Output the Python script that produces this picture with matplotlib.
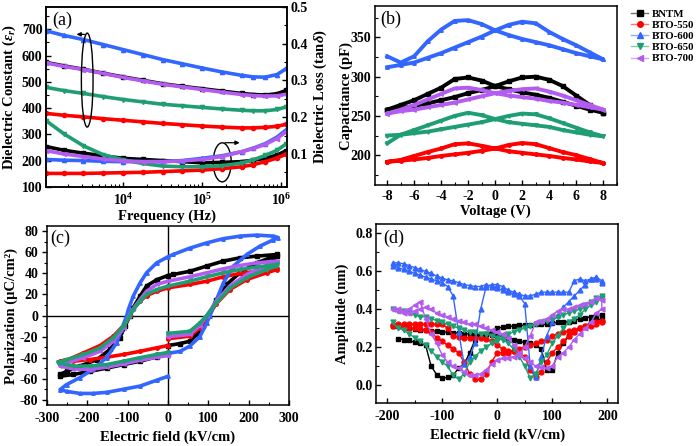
import numpy as np
import matplotlib
matplotlib.use('Agg')
import matplotlib.pyplot as plt
from matplotlib.patches import Ellipse
from matplotlib.lines import Line2D
from matplotlib.ticker import MultipleLocator, FormatStrFormatter

plt.rcParams.update({
    'font.family': 'Liberation Serif',
    'font.weight': 'bold',
    'axes.labelweight': 'bold',
    'font.size': 10,
    'xtick.labelsize': 10,
    'ytick.labelsize': 10,
    'axes.unicode_minus': False,
    'mathtext.fontset': 'custom',
    'mathtext.rm': 'Liberation Serif:bold',
    'mathtext.it': 'Liberation Serif:italic:bold',
    'mathtext.bf': 'Liberation Serif:bold',
    'axes.linewidth': 1.1,
    'xtick.direction': 'in', 'ytick.direction': 'in',
    'xtick.major.size': 3.5, 'ytick.major.size': 3.5,
    'xtick.minor.size': 2, 'ytick.minor.size': 2,
    'xtick.major.width': 1, 'ytick.major.width': 1,
    'xtick.minor.width': 0.8, 'ytick.minor.width': 0.8,
    'xtick.major.pad': 3.5, 'ytick.major.pad': 2.5,
})

names = ['BNTM', 'BTO-550', 'BTO-600', 'BTO-650', 'BTO-700']
colors = ['#000000', '#ff0000', '#3366ff', '#1f9e74', '#b35cf0']
markers = ['s', 'o', '^', 'v', '<']

# ---------------- (a) dielectric spectra ----------------
freq = [1.07e3, 1.78e3, 3.16e3, 5.62e3, 1e4, 1.78e4, 3.16e4, 5.62e4,
        1e5, 1.78e5, 3.16e5, 4.47e5, 6.31e5, 8.91e5, 1.17e6]
eps_bntm = [574, 561, 548, 533, 519, 506, 493, 483, 474, 465, 456, 452, 450, 455, 468]
eps_550 = [380, 373, 367, 360, 354, 348, 342, 337, 332, 328, 325, 325, 327, 331, 339]
eps_600 = [694, 677, 661, 642, 623, 604, 585, 569, 553, 538, 525, 519, 518, 528, 551]
eps_650 = [479, 467, 456, 444, 433, 424, 415, 409, 403, 397, 392, 390, 390, 395, 405]
eps_700 = [572, 559, 547, 532, 517, 504, 491, 481, 471, 461, 452, 448, 446, 447, 453]

loss_bntm = [0.120, 0.110, 0.102, 0.095, 0.088, 0.085, 0.082, 0.079, 0.076, 0.077, 0.079, 0.083, 0.088, 0.097, 0.109]
loss_550 = [0.047, 0.047, 0.047, 0.048, 0.049, 0.050, 0.052, 0.054, 0.056, 0.060, 0.065, 0.071, 0.079, 0.089, 0.100]
loss_600 = [0.085, 0.083, 0.082, 0.080, 0.079, 0.079, 0.079, 0.082, 0.088, 0.095, 0.106, 0.116, 0.128, 0.146, 0.166]
loss_650 = [0.190, 0.155, 0.122, 0.098, 0.084, 0.074, 0.067, 0.065, 0.065, 0.068, 0.075, 0.084, 0.096, 0.110, 0.128]
loss_700 = [0.109, 0.100, 0.093, 0.086, 0.081, 0.079, 0.079, 0.081, 0.085, 0.093, 0.106, 0.115, 0.126, 0.142, 0.161]

# ---------------- (b) C-V butterfly ----------------
volt = list(range(-8, 9))
cap_bntm_a = [258, 264, 270, 278, 286, 297, 299, 295, 288, 284, 280, 277, 273, 268, 263, 258, 254]
cap_bntm_b = [258, 260, 262.5, 266, 270, 274, 279, 283, 288, 294, 299, 300, 296, 288, 276, 264, 254]
cap_550_a = [191.5, 194, 199, 204, 208.5, 214, 215, 212, 208.5, 205, 203, 201, 199, 196.5, 194.5, 192, 190]
cap_550_b = [191.5, 193, 194.5, 196.5, 199, 201, 203, 205.5, 208.5, 213, 215.5, 214, 209, 204, 200, 195, 190]
cap_600_a = [326, 318, 326, 345, 360, 371, 372, 367, 359, 353, 348, 344, 340, 335, 330, 326, 322]
cap_600_b = [312, 315, 318, 324, 330, 337, 344, 351, 359, 366, 370, 368, 357, 348, 340, 331, 322]
cap_650_a = [215, 226, 232, 238, 244, 250, 254, 251, 246, 242, 240, 238, 236, 232, 229, 226, 224]
cap_650_b = [225, 226, 228, 230, 233, 236, 239, 242, 246, 250, 253, 252, 247, 241, 235, 229, 224]
cap_700_a = [253, 258, 264, 271, 278, 285, 286, 283, 279, 276, 274, 272, 269, 267, 264, 261, 258]
cap_700_b = [253, 256, 258, 261, 264, 267, 271, 275, 279, 282, 284, 285, 281, 276, 270, 264, 258]

# ---------------- (c) P-E loops ----------------
pe_bntm_e = [0, 30, 54, 71, 87, 100, 120, 145, 178, 219, 261, 270, 270, 219, 178, 137, 96, 54, 13, 0,
             -28, -53, -69, -86, -94, -106, -119, -143, -176, -218, -251, -267, -267, -234, -193, -152,
             -110, -69, -28, 0]
pe_bntm_p = [-28.5, -26.6, -24.4, -18, -9.5, 0, 15, 29.5, 40.6, 50, 55.8, 57, 58, 56.4, 54.8, 51.7, 47, 42,
             39, 38, 34, 28, 18.4, 7.3, 0, -10, -21, -32, -42, -48, -53, -56, -57.7, -56, -53, -50, -46.6,
             -43.4, -39.3, -37]
pe_550_e = [0, 54, 79, 100, 120, 153, 195, 244, 270, 270, 219, 178, 137, 96, 54, 0, -28, -53, -69, -86,
            -94, -110, -135, -168, -209, -242, -267, -267, -234, -193, -152, -110, -69, -28, 0]
pe_550_p = [-22, -19.6, -11.7, 0, 11.4, 24.7, 34.2, 40.6, 43.7, 45.3, 42, 40, 36.8, 32.6, 29.5, 26.3, 23,
            19, 13.6, 6.3, 0, -9.5, -19.6, -28.5, -35.5, -41, -43.4, -44.4, -43.4, -41.8, -39.6, -37, -34,
            -30.7, -28.5]
pe_600_e = [0, 30, 54, 79, 96, 104, 120, 137, 162, 195, 228, 261, 273, 261, 219, 178, 137, 96, 54, 13, 0,
            -28, -53, -69, -86, -98, -102, -115, -127, -152, -185, -218, -251, -267, -251, -218, -185,
            -152, -110, -69, -28, 0]
pe_600_p = [-36, -34, -29, -20, -7, 0, 15, 31, 47, 58, 66, 72, 74, 75.4, 76.4, 75.4, 73, 69, 64, 58, 55.8,
            50, 40.6, 31, 18.4, 5.7, 0, -13.3, -26, -40, -51, -59, -65.6, -70.4, -72, -74, -74, -73, -70,
            -67, -61.5, -57.7]
pe_650_e = [0, 54, 79, 96, 120, 153, 195, 244, 270, 270, 219, 178, 137, 96, 54, 0, -28, -53, -69, -86,
            -94, -110, -135, -168, -209, -251, -271, -271, -234, -193, -152, -110, -69, -28, 0]
pe_650_p = [-17, -15, -7, 0, 12, 26, 36, 43.7, 47, 48.5, 46, 43.7, 40.6, 36.8, 32.6, 27.9, 24.7, 20, 13.6,
            5.7, 0, -10, -21, -30.7, -37, -42, -44.4, -45, -48, -48, -46.6, -43.4, -40, -37, -35]
pe_700_e = [0, 54, 79, 96, 120, 153, 195, 244, 270, 270, 219, 178, 137, 96, 54, 0, -28, -53, -69, -86,
            -96, -110, -135, -168, -209, -251, -267, -267, -234, -193, -152, -110, -69, -28, 0]
pe_700_p = [-20, -18, -9.5, 0, 13.6, 28, 39, 47.5, 50.7, 51.7, 50, 47.5, 44.4, 40.6, 36.8, 32.6, 29.5, 23,
            15.2, 6.3, 0, -11.7, -24.4, -34, -40, -45, -46.6, -48, -50.7, -51.3, -49, -46, -42.5, -39.6, -38]

# ---------------- (d) PFM amplitude ----------------
field = np.arange(-190, 200, 10)
amp_bntm_f = [np.nan, 0.245, 0.24, 0.235, 0.225, 0.22, 0.21, 0.10, 0.055, 0.035, 0.04, 0.05, 0.09, 0.11,
              0.17, 0.24, 0.265, 0.27, 0.265, 0.26, 0.255, 0.25, 0.24, 0.23, 0.225, 0.22, 0.21, 0.19, 0.08,
              0.08, 0.17, 0.22, 0.26, 0.28, 0.30, 0.31, 0.33, 0.34, 0.35]
amp_bntm_b = [0.31, 0.31, 0.305, 0.30, 0.295, 0.29, 0.29, 0.285, 0.285, 0.28, 0.28, 0.275, 0.275, 0.27,
              0.27, 0.265, 0.265, 0.27, 0.28, 0.30, 0.305, 0.31, 0.31, 0.315, 0.315, 0.315, 0.32, 0.32,
              0.32, 0.325, 0.33, 0.33, 0.335, 0.34, 0.35, 0.355, 0.36, 0.365, 0.37]
amp_550_f = [0.31, 0.31, 0.30, 0.30, 0.30, 0.295, 0.29, 0.28, 0.25, 0.23, 0.21, 0.19, 0.17, 0.12, 0.06,
             0.03, 0.03, 0.06, 0.12, 0.17, 0.17, 0.17, 0.18, 0.19, 0.20, 0.21, 0.22, 0.23, 0.24, 0.26,
             0.27, 0.28, 0.285, 0.29, 0.30, 0.305, 0.31, 0.32, 0.33]
amp_550_b = [0.315, 0.32, 0.32, 0.32, 0.32, 0.32, 0.32, 0.32, 0.32, 0.32, 0.30, 0.26, 0.255, 0.25, 0.25,
             0.25, 0.25, 0.245, 0.23, 0.21, 0.19, 0.18, 0.18, 0.17, 0.15, 0.08, 0.04, 0.07, 0.12, 0.17,
             0.20, 0.23, 0.26, 0.28, 0.30, 0.31, 0.32, 0.33, 0.34]
amp_600_f = [0.645, 0.645, 0.64, 0.63, 0.62, 0.61, 0.60, 0.59, 0.575, 0.565, 0.555, 0.55, 0.54, 0.53,
             0.525, 0.52, 0.52, 0.53, 0.52, 0.51, 0.50, 0.49, 0.48, 0.47, 0.43, 0.10, 0.04, 0.15, 0.26,
             0.33, 0.37, 0.41, 0.44, 0.47, 0.50, 0.53, 0.56, 0.57, 0.55]
amp_600_b = [0.63, 0.62, 0.61, 0.60, 0.59, 0.58, 0.57, 0.56, 0.55, 0.54, 0.52, 0.47, 0.28, 0.11, 0.15,
             0.22, 0.40, 0.52, 0.53, 0.53, 0.52, 0.50, 0.49, 0.48, 0.47, 0.47, 0.48, 0.49, 0.49, 0.49,
             0.49, 0.49, 0.49, 0.55, 0.56, 0.55, 0.56, 0.56, 0.54]
amp_650_f = [0.33, 0.30, 0.29, 0.27, 0.25, 0.23, 0.21, 0.18, 0.15, 0.12, 0.10, 0.05, 0.03, 0.06, 0.12,
             0.15, 0.18, 0.20, 0.22, 0.23, 0.25, 0.27, 0.28, 0.29, 0.30, 0.31, 0.32, 0.33, 0.34, 0.35,
             0.36, 0.37, 0.38, 0.39, 0.40, 0.42, 0.44, 0.46, 0.47]
amp_650_b = [0.40, 0.39, 0.39, 0.38, 0.37, 0.36, 0.36, 0.35, 0.34, 0.33, 0.32, 0.31, 0.30, 0.29, 0.28,
             0.28, 0.27, 0.27, 0.26, 0.25, 0.24, 0.22, 0.19, 0.15, 0.10, 0.035, 0.06, 0.12, 0.16, 0.22,
             0.26, 0.30, 0.33, 0.35, 0.37, 0.40, 0.42, 0.44, 0.46]
amp_700_f = [0.40, 0.40, 0.39, 0.40, 0.42, 0.44, 0.35, 0.27, 0.22, 0.16, 0.12, 0.10, 0.09, 0.07, 0.05,
             0.05, 0.06, 0.08, 0.11, 0.13, 0.14, 0.14, 0.15, 0.16, 0.20, 0.26, 0.33, 0.34, 0.35, 0.37,
             0.39, 0.40, 0.40, 0.41, 0.42, 0.43, 0.44, 0.46, 0.45]
amp_700_b = [0.40, 0.39, 0.38, 0.38, 0.39, 0.40, 0.41, 0.40, 0.38, 0.37, 0.36, 0.35, 0.34, 0.33, 0.32,
             0.32, 0.31, 0.30, 0.29, 0.28, 0.27, 0.25, 0.21, 0.17, 0.14, 0.12, 0.10, 0.095, 0.09, 0.10,
             0.15, 0.17, 0.20, 0.24, 0.27, 0.30, 0.33, 0.38, 0.40]

eps_all = [eps_bntm, eps_550, eps_600, eps_650, eps_700]
loss_all = [loss_bntm, loss_550, loss_600, loss_650, loss_700]
cap_all = [(cap_bntm_a, cap_bntm_b), (cap_550_a, cap_550_b), (cap_600_a, cap_600_b),
           (cap_650_a, cap_650_b), (cap_700_a, cap_700_b)]
pe_all = [(pe_bntm_e, pe_bntm_p), (pe_550_e, pe_550_p), (pe_600_e, pe_600_p),
          (pe_650_e, pe_650_p), (pe_700_e, pe_700_p)]
amp_all = [(amp_bntm_f, amp_bntm_b), (amp_550_f, amp_550_b), (amp_600_f, amp_600_b),
           (amp_650_f, amp_650_b), (amp_700_f, amp_700_b)]

fig = plt.figure(figsize=(6.97, 4.46), dpi=100)
ax_a = fig.add_axes([0.066, 0.5807, 0.3458, 0.4036])
ax_b = fig.add_axes([0.538, 0.5852, 0.3468, 0.4013])
ax_c = fig.add_axes([0.067, 0.0919, 0.348, 0.4013])
ax_d = fig.add_axes([0.5395, 0.0957, 0.3476, 0.402])

lab_fs = 10.5

# (a)
ax_a2 = ax_a.twinx()
for i in range(5):
    ax_a.plot(freq, eps_all[i], color=colors[i], marker=markers[i], ms=3, lw=2.6)
    ax_a2.plot(freq, loss_all[i], color=colors[i], marker=markers[i], ms=3, lw=2.6)
ax_a.set_xscale('log')
ax_a.set_xlim(1.06e3, 1.19e6)
ax_a.set_ylim(100, 785)
ax_a.yaxis.set_major_locator(MultipleLocator(100))
ax_a.yaxis.set_minor_locator(MultipleLocator(50))
ax_a2.set_ylim(0.01, 0.5)
ax_a2.yaxis.set_major_locator(MultipleLocator(0.1))
ax_a2.yaxis.set_minor_locator(MultipleLocator(0.05))
ax_a2.yaxis.set_major_formatter(FormatStrFormatter('%.1f'))
ax_a.set_xlabel('Frequency (Hz)', fontsize=lab_fs, labelpad=1)
ax_a.set_ylabel(r'Dielectric Constant ($\varepsilon_r$)', fontsize=lab_fs)
ax_a.yaxis.set_label_coords(-0.118, 0.5)
ax_a2.set_ylabel(r'Dielectric Loss (tan$\delta$)', fontsize=lab_fs)
ax_a2.yaxis.set_label_coords(1.103, 0.5)
ax_a.text(0.025, 0.975, '(a)', transform=ax_a.transAxes, va='top', ha='left',
          fontsize=13, fontweight='normal')
ax_a2.add_patch(Ellipse((0.171, 0.594), 0.0485, 0.522, transform=ax_a2.transAxes,
                        fill=False, ec='k', lw=1))
ax_a2.annotate('', xy=(0.115, 0.848), xytext=(0.171, 0.848), xycoords='axes fraction',
               arrowprops=dict(arrowstyle='-|>', lw=0.9, color='k', mutation_scale=6))
ax_a2.add_patch(Ellipse((0.731, 0.137), 0.0747, 0.217, transform=ax_a2.transAxes,
                        fill=False, ec='k', lw=1))
ax_a2.annotate('', xy=(0.815, 0.246), xytext=(0.731, 0.246), xycoords='axes fraction',
               arrowprops=dict(arrowstyle='-|>', lw=0.9, color='k', mutation_scale=6))

# (b)
for i in range(5):
    a, b = cap_all[i]
    ax_b.plot(volt + volt[::-1], a + b[::-1], color=colors[i], marker=markers[i], ms=2.5, lw=2.8)
ax_b.set_xlim(-8.9, 9.0)
ax_b.set_ylim(162, 390)
ax_b.xaxis.set_major_locator(MultipleLocator(2))
ax_b.xaxis.set_minor_locator(MultipleLocator(1))
ax_b.yaxis.set_major_locator(MultipleLocator(50))
ax_b.yaxis.set_minor_locator(MultipleLocator(25))
ax_b.set_xlabel('Voltage (V)', fontsize=lab_fs, labelpad=1)
ax_b.set_ylabel('Capacitance (pF)', fontsize=lab_fs)
ax_b.yaxis.set_label_coords(-0.093, 0.5)
ax_b.text(0.02, 0.975, '(b)', transform=ax_b.transAxes, va='top', ha='left',
          fontsize=13, fontweight='normal')

handles = []
for i in range(5):
    handles.append(Line2D([], [], color=matplotlib.colors.to_rgba(colors[i], 0.55),
                          marker=markers[i], ms=4, lw=1,
                          markerfacecolor=colors[i], markeredgecolor=colors[i]))
fig.legend(handles, names, loc='upper left', bbox_to_anchor=(631 / 697, 1 - 9 / 446),
           frameon=False, fontsize=7.8, handlelength=1.6, handletextpad=0.3,
           labelspacing=0.15, borderpad=0, borderaxespad=0)

# (c)
ax_c.axhline(0, color='k', lw=1, zorder=1)
ax_c.axvline(0, color='k', lw=1, zorder=1)
for i in [0, 1, 2, 4, 3]:
    e, p = pe_all[i]
    ax_c.plot(e, p, color=colors[i], marker=markers[i], ms=2.5, lw=2.6, zorder=2)
ax_c.set_xlim(-300, 300)
ax_c.set_ylim(-85, 85)
ax_c.xaxis.set_major_locator(MultipleLocator(100))
ax_c.xaxis.set_minor_locator(MultipleLocator(50))
ax_c.yaxis.set_major_locator(MultipleLocator(20))
ax_c.yaxis.set_minor_locator(MultipleLocator(10))
ax_c.tick_params(axis='y', which='both', direction='out')
ax_c.tick_params(axis='x', which='major', pad=5)
ax_c.set_xlabel('Electric field (kV/cm)', fontsize=lab_fs, labelpad=4)
ax_c.set_ylabel('Polarization (μC/cm²)', fontsize=lab_fs)
ax_c.yaxis.set_label_coords(-0.12, 0.5)
ax_c.text(0.014, 0.978, '(c)', transform=ax_c.transAxes, va='top', ha='left',
          fontsize=13, fontweight='normal')

# (d)
for i in range(5):
    f, b = amp_all[i]
    ax_d.plot(np.concatenate([field, field[::-1]]), np.concatenate([f, b[::-1]]),
              color=colors[i], marker=markers[i], ms=3.5, lw=1)
ax_d.set_xlim(-220, 220)
ax_d.set_ylim(-0.097, 0.85)
ax_d.xaxis.set_major_locator(MultipleLocator(100))
ax_d.xaxis.set_minor_locator(MultipleLocator(50))
ax_d.yaxis.set_major_locator(MultipleLocator(0.2))
ax_d.yaxis.set_minor_locator(MultipleLocator(0.1))
ax_d.yaxis.set_major_formatter(FormatStrFormatter('%.1f'))
ax_d.tick_params(axis='x', which='major', pad=5)
ax_d.set_xlabel('Electric field (kV/cm)', fontsize=lab_fs, labelpad=4)
ax_d.set_ylabel('Amplitude (nm)', fontsize=lab_fs)
ax_d.yaxis.set_label_coords(-0.11, 0.5)
ax_d.text(0.028, 0.968, '(d)', transform=ax_d.transAxes, va='top', ha='left',
          fontsize=13, fontweight='normal')

fig.savefig('out.png', dpi=100)
